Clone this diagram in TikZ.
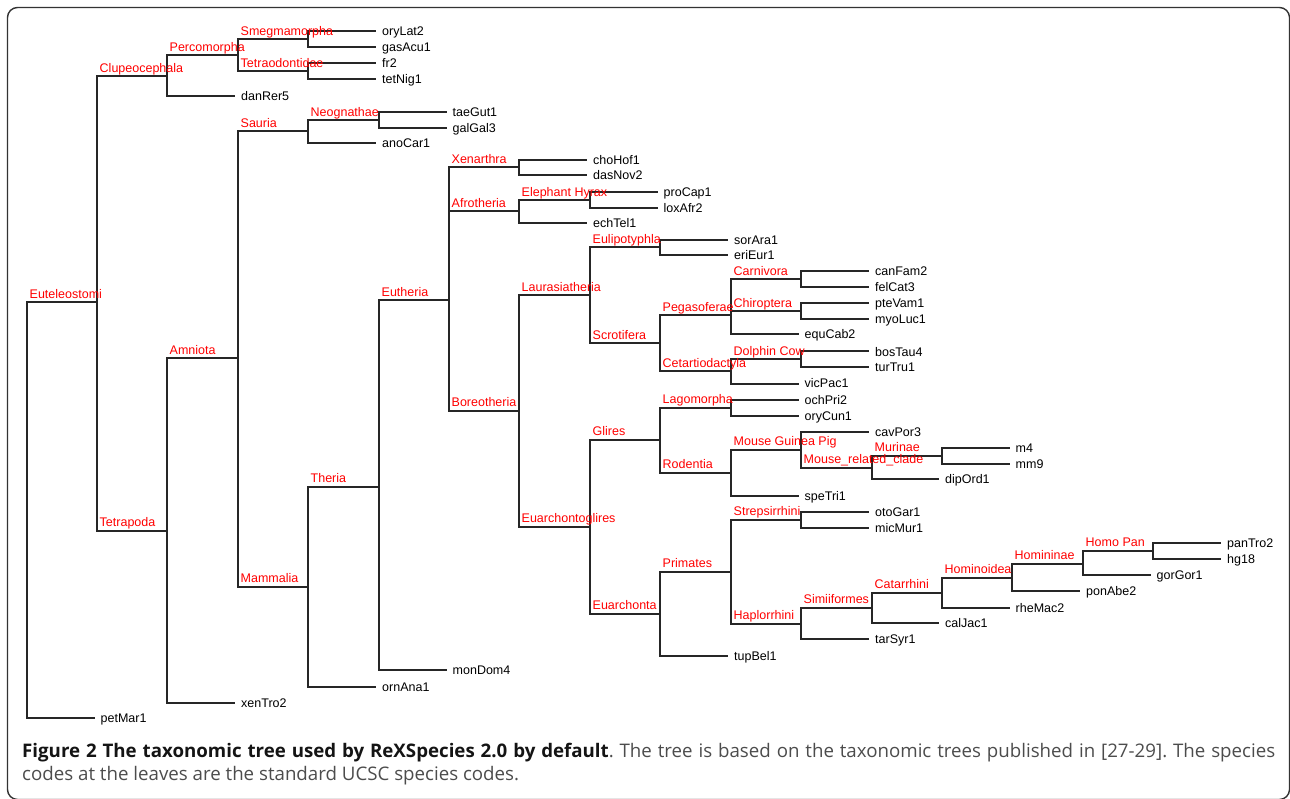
\documentclass[tikz,border=0pt]{standalone}
\usepackage{fontspec}
\setmainfont{Liberation Sans}
\newfontfamily\capfont{Open Sans}

\begin{document}
\frenchspacing
\begin{tikzpicture}[x=1pt, y=-1pt,
    branch/.style={line width=2pt, black!85},
    clade/.style={anchor=base west, xshift=3pt, yshift=4pt, inner sep=0pt, text=red, font=\fontsize{12.5}{14}\selectfont},
    leaf/.style={anchor=west, inner xsep=6pt, inner ysep=0pt, text height=9pt, text depth=0pt, font=\fontsize{12.5}{14}\selectfont},
    frame/.style={line width=1.4pt, black!80, rounded corners=10pt},
    caption/.style={anchor=base west, inner sep=0pt, text=black!70, font=\capfont\fontsize{18.7}{22}\selectfont}]
  \useasboundingbox (0, 0) rectangle (1290, 799);
  \draw[frame] (7.5, 7.5) rectangle (1289.5, 799.5);

  %clados
  \coordinate (root) at (26.5, 510.5);
  \coordinate (Euteleostomi) at (96.5, 302.5);
  \coordinate (Clupeocephala) at (166.5, 76.5);
  \coordinate (Percomorpha) at (237.5, 55.5);
  \coordinate (Smegmamorpha) at (307.5, 39.5);
  \coordinate (Tetraodontidae) at (307.5, 71.5);
  \coordinate (Tetrapoda) at (166.5, 530.5);
  \coordinate (Amniota) at (237.5, 358.5);
  \coordinate (Sauria) at (307.5, 131.5);
  \coordinate (Neognathae) at (378.5, 120.5);
  \coordinate (Mammalia) at (307.5, 586.5);
  \coordinate (Theria) at (378.5, 486.5);
  \coordinate (Eutheria) at (448.5, 300.5);
  \coordinate (Xenarthra) at (518.5, 167.5);
  \coordinate (Afrotheria) at (518.5, 211.5);
  \coordinate (ElephantHyrax) at (589.5, 200.5);
  \coordinate (Boreotheria) at (518.5, 410.5);
  \coordinate (Laurasiatheria) at (589.5, 295.5);
  \coordinate (Eulipotyphla) at (659.5, 247.5);
  \coordinate (Scrotifera) at (659.5, 343.5);
  \coordinate (Pegasoferae) at (730.5, 315.5);
  \coordinate (Carnivora) at (800.5, 279.5);
  \coordinate (Chiroptera) at (800.5, 311.5);
  \coordinate (Cetartiodactyla) at (730.5, 371.5);
  \coordinate (DolphinCow) at (800.5, 359.5);
  \coordinate (Euarchontoglires) at (589.5, 526.5);
  \coordinate (Glires) at (659.5, 439.5);
  \coordinate (Lagomorpha) at (730.5, 407.5);
  \coordinate (Rodentia) at (730.5, 472.5);
  \coordinate (MouseGuineaPig) at (800.5, 449.5);
  \coordinate (MouseRelated) at (871.5, 467.5);
  \coordinate (Murinae) at (941.5, 455.5);
  \coordinate (Euarchonta) at (659.5, 613.5);
  \coordinate (Primates) at (730.5, 571.5);
  \coordinate (Strepsirrhini) at (800.5, 519.5);
  \coordinate (Haplorrhini) at (800.5, 623.5);
  \coordinate (Simiiformes) at (871.5, 607.5);
  \coordinate (Catarrhini) at (941.5, 592.5);
  \coordinate (Hominoidea) at (1011.5, 577.5);
  \coordinate (Homininae) at (1082.5, 563.5);
  \coordinate (HomoPan) at (1152.5, 550.5);

  %folhas
  \node[leaf] (oryLat2) at (376, 31.5) {oryLat2};
  \node[leaf] (gasAcu1) at (376, 47.5) {gasAcu1};
  \node[leaf] (fr2) at (376, 63.5) {fr2};
  \node[leaf] (tetNig1) at (376, 79.5) {tetNig1};
  \node[leaf] (danRer5) at (235, 96.5) {danRer5};
  \node[leaf] (taeGut1) at (446.5, 112.5) {taeGut1};
  \node[leaf] (galGal3) at (446.5, 128.5) {galGal3};
  \node[leaf] (anoCar1) at (376, 143.5) {anoCar1};
  \node[leaf] (choHof1) at (587, 160.5) {choHof1};
  \node[leaf] (dasNov2) at (587, 175.5) {dasNov2};
  \node[leaf] (proCap1) at (657.5, 192.5) {proCap1};
  \node[leaf] (loxAfr2) at (657.5, 208.5) {loxAfr2};
  \node[leaf] (echTel1) at (587, 223.5) {echTel1};
  \node[leaf] (sorAra1) at (728, 240.5) {sorAra1};
  \node[leaf] (eriEur1) at (728, 255.5) {eriEur1};
  \node[leaf] (canFam2) at (869, 271.5) {canFam2};
  \node[leaf] (felCat3) at (869, 287.5) {felCat3};
  \node[leaf] (pteVam1) at (869, 303.5) {pteVam1};
  \node[leaf] (myoLuc1) at (869, 319.5) {myoLuc1};
  \node[leaf] (equCab2) at (798.5, 334.5) {equCab2};
  \node[leaf] (bosTau4) at (869, 351.5) {bosTau4};
  \node[leaf] (turTru1) at (869, 367.5) {turTru1};
  \node[leaf] (vicPac1) at (798.5, 383.5) {vicPac1};
  \node[leaf] (ochPri2) at (798.5, 399.5) {ochPri2};
  \node[leaf] (oryCun1) at (798.5, 415.5) {oryCun1};
  \node[leaf] (cavPor3) at (869, 431.5) {cavPor3};
  \node[leaf] (m4) at (1009.5, 447.5) {m4};
  \node[leaf] (mm9) at (1009.5, 463.5) {mm9};
  \node[leaf] (dipOrd1) at (939, 478.5) {dipOrd1};
  \node[leaf] (speTri1) at (798.5, 495.5) {speTri1};
  \node[leaf] (otoGar1) at (869, 511.5) {otoGar1};
  \node[leaf] (micMur1) at (869, 527.5) {micMur1};
  \node[leaf] (panTro2) at (1221, 542.5) {panTro2};
  \node[leaf] (hg18) at (1221, 558.5) {hg18};
  \node[leaf] (gorGor1) at (1150.5, 574.5) {gorGor1};
  \node[leaf] (ponAbe2) at (1080, 590.5) {ponAbe2};
  \node[leaf] (rheMac2) at (1009.5, 607.5) {rheMac2};
  \node[leaf] (calJac1) at (939, 622.5) {calJac1};
  \node[leaf] (tarSyr1) at (869, 638.5) {tarSyr1};
  \node[leaf] (tupBel1) at (728, 655.5) {tupBel1};
  \node[leaf] (monDom4) at (446.5, 669.5) {monDom4};
  \node[leaf] (ornAna1) at (376, 686.5) {ornAna1};
  \node[leaf] (xenTro2) at (235, 702.5) {xenTro2};
  \node[leaf] (petMar1) at (94.5, 717.5) {petMar1};

  %ramos
  \draw[branch] (root) |- (Euteleostomi);
  \draw[branch] (root) |- (petMar1);
  \draw[branch] (Euteleostomi) |- (Clupeocephala);
  \draw[branch] (Euteleostomi) |- (Tetrapoda);
  \draw[branch] (Clupeocephala) |- (Percomorpha);
  \draw[branch] (Clupeocephala) |- (danRer5);
  \draw[branch] (Percomorpha) |- (Smegmamorpha);
  \draw[branch] (Percomorpha) |- (Tetraodontidae);
  \draw[branch] (Smegmamorpha) |- (oryLat2);
  \draw[branch] (Smegmamorpha) |- (gasAcu1);
  \draw[branch] (Tetraodontidae) |- (fr2);
  \draw[branch] (Tetraodontidae) |- (tetNig1);
  \draw[branch] (Tetrapoda) |- (Amniota);
  \draw[branch] (Tetrapoda) |- (xenTro2);
  \draw[branch] (Amniota) |- (Sauria);
  \draw[branch] (Amniota) |- (Mammalia);
  \draw[branch] (Sauria) |- (Neognathae);
  \draw[branch] (Sauria) |- (anoCar1);
  \draw[branch] (Neognathae) |- (taeGut1);
  \draw[branch] (Neognathae) |- (galGal3);
  \draw[branch] (Mammalia) |- (Theria);
  \draw[branch] (Mammalia) |- (ornAna1);
  \draw[branch] (Theria) |- (Eutheria);
  \draw[branch] (Theria) |- (monDom4);
  \draw[branch] (Eutheria) |- (Xenarthra);
  \draw[branch] (Eutheria) |- (Afrotheria);
  \draw[branch] (Eutheria) |- (Boreotheria);
  \draw[branch] (Xenarthra) |- (choHof1);
  \draw[branch] (Xenarthra) |- (dasNov2);
  \draw[branch] (Afrotheria) |- (ElephantHyrax);
  \draw[branch] (Afrotheria) |- (echTel1);
  \draw[branch] (ElephantHyrax) |- (proCap1);
  \draw[branch] (ElephantHyrax) |- (loxAfr2);
  \draw[branch] (Boreotheria) |- (Laurasiatheria);
  \draw[branch] (Boreotheria) |- (Euarchontoglires);
  \draw[branch] (Laurasiatheria) |- (Eulipotyphla);
  \draw[branch] (Laurasiatheria) |- (Scrotifera);
  \draw[branch] (Eulipotyphla) |- (sorAra1);
  \draw[branch] (Eulipotyphla) |- (eriEur1);
  \draw[branch] (Scrotifera) |- (Pegasoferae);
  \draw[branch] (Scrotifera) |- (Cetartiodactyla);
  \draw[branch] (Pegasoferae) |- (Carnivora);
  \draw[branch] (Pegasoferae) |- (Chiroptera);
  \draw[branch] (Pegasoferae) |- (equCab2);
  \draw[branch] (Carnivora) |- (canFam2);
  \draw[branch] (Carnivora) |- (felCat3);
  \draw[branch] (Chiroptera) |- (pteVam1);
  \draw[branch] (Chiroptera) |- (myoLuc1);
  \draw[branch] (Cetartiodactyla) |- (DolphinCow);
  \draw[branch] (Cetartiodactyla) |- (vicPac1);
  \draw[branch] (DolphinCow) |- (bosTau4);
  \draw[branch] (DolphinCow) |- (turTru1);
  \draw[branch] (Euarchontoglires) |- (Glires);
  \draw[branch] (Euarchontoglires) |- (Euarchonta);
  \draw[branch] (Glires) |- (Lagomorpha);
  \draw[branch] (Glires) |- (Rodentia);
  \draw[branch] (Lagomorpha) |- (ochPri2);
  \draw[branch] (Lagomorpha) |- (oryCun1);
  \draw[branch] (Rodentia) |- (MouseGuineaPig);
  \draw[branch] (Rodentia) |- (speTri1);
  \draw[branch] (MouseGuineaPig) |- (cavPor3);
  \draw[branch] (MouseGuineaPig) |- (MouseRelated);
  \draw[branch] (MouseRelated) |- (Murinae);
  \draw[branch] (MouseRelated) |- (dipOrd1);
  \draw[branch] (Murinae) |- (m4);
  \draw[branch] (Murinae) |- (mm9);
  \draw[branch] (Euarchonta) |- (Primates);
  \draw[branch] (Euarchonta) |- (tupBel1);
  \draw[branch] (Primates) |- (Strepsirrhini);
  \draw[branch] (Primates) |- (Haplorrhini);
  \draw[branch] (Strepsirrhini) |- (otoGar1);
  \draw[branch] (Strepsirrhini) |- (micMur1);
  \draw[branch] (Haplorrhini) |- (Simiiformes);
  \draw[branch] (Haplorrhini) |- (tarSyr1);
  \draw[branch] (Simiiformes) |- (Catarrhini);
  \draw[branch] (Simiiformes) |- (calJac1);
  \draw[branch] (Catarrhini) |- (Hominoidea);
  \draw[branch] (Catarrhini) |- (rheMac2);
  \draw[branch] (Hominoidea) |- (Homininae);
  \draw[branch] (Hominoidea) |- (ponAbe2);
  \draw[branch] (Homininae) |- (HomoPan);
  \draw[branch] (Homininae) |- (gorGor1);
  \draw[branch] (HomoPan) |- (panTro2);
  \draw[branch] (HomoPan) |- (hg18);

  %nomes dos clados
  \node[clade] (tEuteleostomi) at (root |- Euteleostomi) {Euteleostomi};
  \node[clade] (tClupeocephala) at (Euteleostomi |- Clupeocephala) {Clupeocephala};
  \node[clade] (tPercomorpha) at (Clupeocephala |- Percomorpha) {Percomorpha};
  \node[clade] (tSmegmamorpha) at (Percomorpha |- Smegmamorpha) {Smegmamorpha};
  \node[clade] (tTetraodontidae) at (Percomorpha |- Tetraodontidae) {Tetraodontidae};
  \node[clade] (tTetrapoda) at (Euteleostomi |- Tetrapoda) {Tetrapoda};
  \node[clade] (tAmniota) at (Tetrapoda |- Amniota) {Amniota};
  \node[clade] (tSauria) at (Amniota |- Sauria) {Sauria};
  \node[clade] (tNeognathae) at (Sauria |- Neognathae) {Neognathae};
  \node[clade] (tMammalia) at (Amniota |- Mammalia) {Mammalia};
  \node[clade] (tTheria) at (Mammalia |- Theria) {Theria};
  \node[clade] (tEutheria) at (Theria |- Eutheria) {Eutheria};
  \node[clade] (tXenarthra) at (Eutheria |- Xenarthra) {Xenarthra};
  \node[clade] (tAfrotheria) at (Eutheria |- Afrotheria) {Afrotheria};
  \node[clade] (tElephantHyrax) at (Afrotheria |- ElephantHyrax) {Elephant Hyrax};
  \node[clade] (tBoreotheria) at (Eutheria |- Boreotheria) {Boreotheria};
  \node[clade] (tLaurasiatheria) at (Boreotheria |- Laurasiatheria) {Laurasiatheria};
  \node[clade] (tEulipotyphla) at (Laurasiatheria |- Eulipotyphla) {Eulipotyphla};
  \node[clade] (tScrotifera) at (Laurasiatheria |- Scrotifera) {Scrotifera};
  \node[clade] (tPegasoferae) at (Scrotifera |- Pegasoferae) {Pegasoferae};
  \node[clade] (tCarnivora) at (Pegasoferae |- Carnivora) {Carnivora};
  \node[clade] (tChiroptera) at (Pegasoferae |- Chiroptera) {Chiroptera};
  \node[clade] (tCetartiodactyla) at (Scrotifera |- Cetartiodactyla) {Cetartiodactyla};
  \node[clade] (tDolphinCow) at (Cetartiodactyla |- DolphinCow) {Dolphin Cow};
  \node[clade] (tEuarchontoglires) at (Boreotheria |- Euarchontoglires) {Euarchontoglires};
  \node[clade] (tGlires) at (Euarchontoglires |- Glires) {Glires};
  \node[clade] (tLagomorpha) at (Glires |- Lagomorpha) {Lagomorpha};
  \node[clade] (tRodentia) at (Glires |- Rodentia) {Rodentia};
  \node[clade] (tMouseGuineaPig) at (Rodentia |- MouseGuineaPig) {Mouse Guinea Pig};
  \node[clade] (tMouseRelated) at (MouseGuineaPig |- MouseRelated) {Mouse\_related\_clade};
  \node[clade] (tMurinae) at (MouseRelated |- Murinae) {Murinae};
  \node[clade] (tEuarchonta) at (Euarchontoglires |- Euarchonta) {Euarchonta};
  \node[clade] (tPrimates) at (Euarchonta |- Primates) {Primates};
  \node[clade] (tStrepsirrhini) at (Primates |- Strepsirrhini) {Strepsirrhini};
  \node[clade] (tHaplorrhini) at (Primates |- Haplorrhini) {Haplorrhini};
  \node[clade] (tSimiiformes) at (Haplorrhini |- Simiiformes) {Simiiformes};
  \node[clade] (tCatarrhini) at (Simiiformes |- Catarrhini) {Catarrhini};
  \node[clade] (tHominoidea) at (Catarrhini |- Hominoidea) {Hominoidea};
  \node[clade] (tHomininae) at (Hominoidea |- Homininae) {Homininae};
  \node[clade] (tHomoPan) at (Homininae |- HomoPan) {Homo Pan};

  %legenda
  \node[caption] (caption1) at (22, 757) {\makebox[1253pt][s]{\textcolor{black!92}{\bfseries Figure 2 The taxonomic tree used by ReXSpecies 2.0 by default}. The tree is based on the taxonomic trees published in [27-29]. The species}};
  \node[caption] (caption2) at (22, 780) {codes at the leaves are the standard UCSC species codes.};
\end{tikzpicture}
\end{document}
